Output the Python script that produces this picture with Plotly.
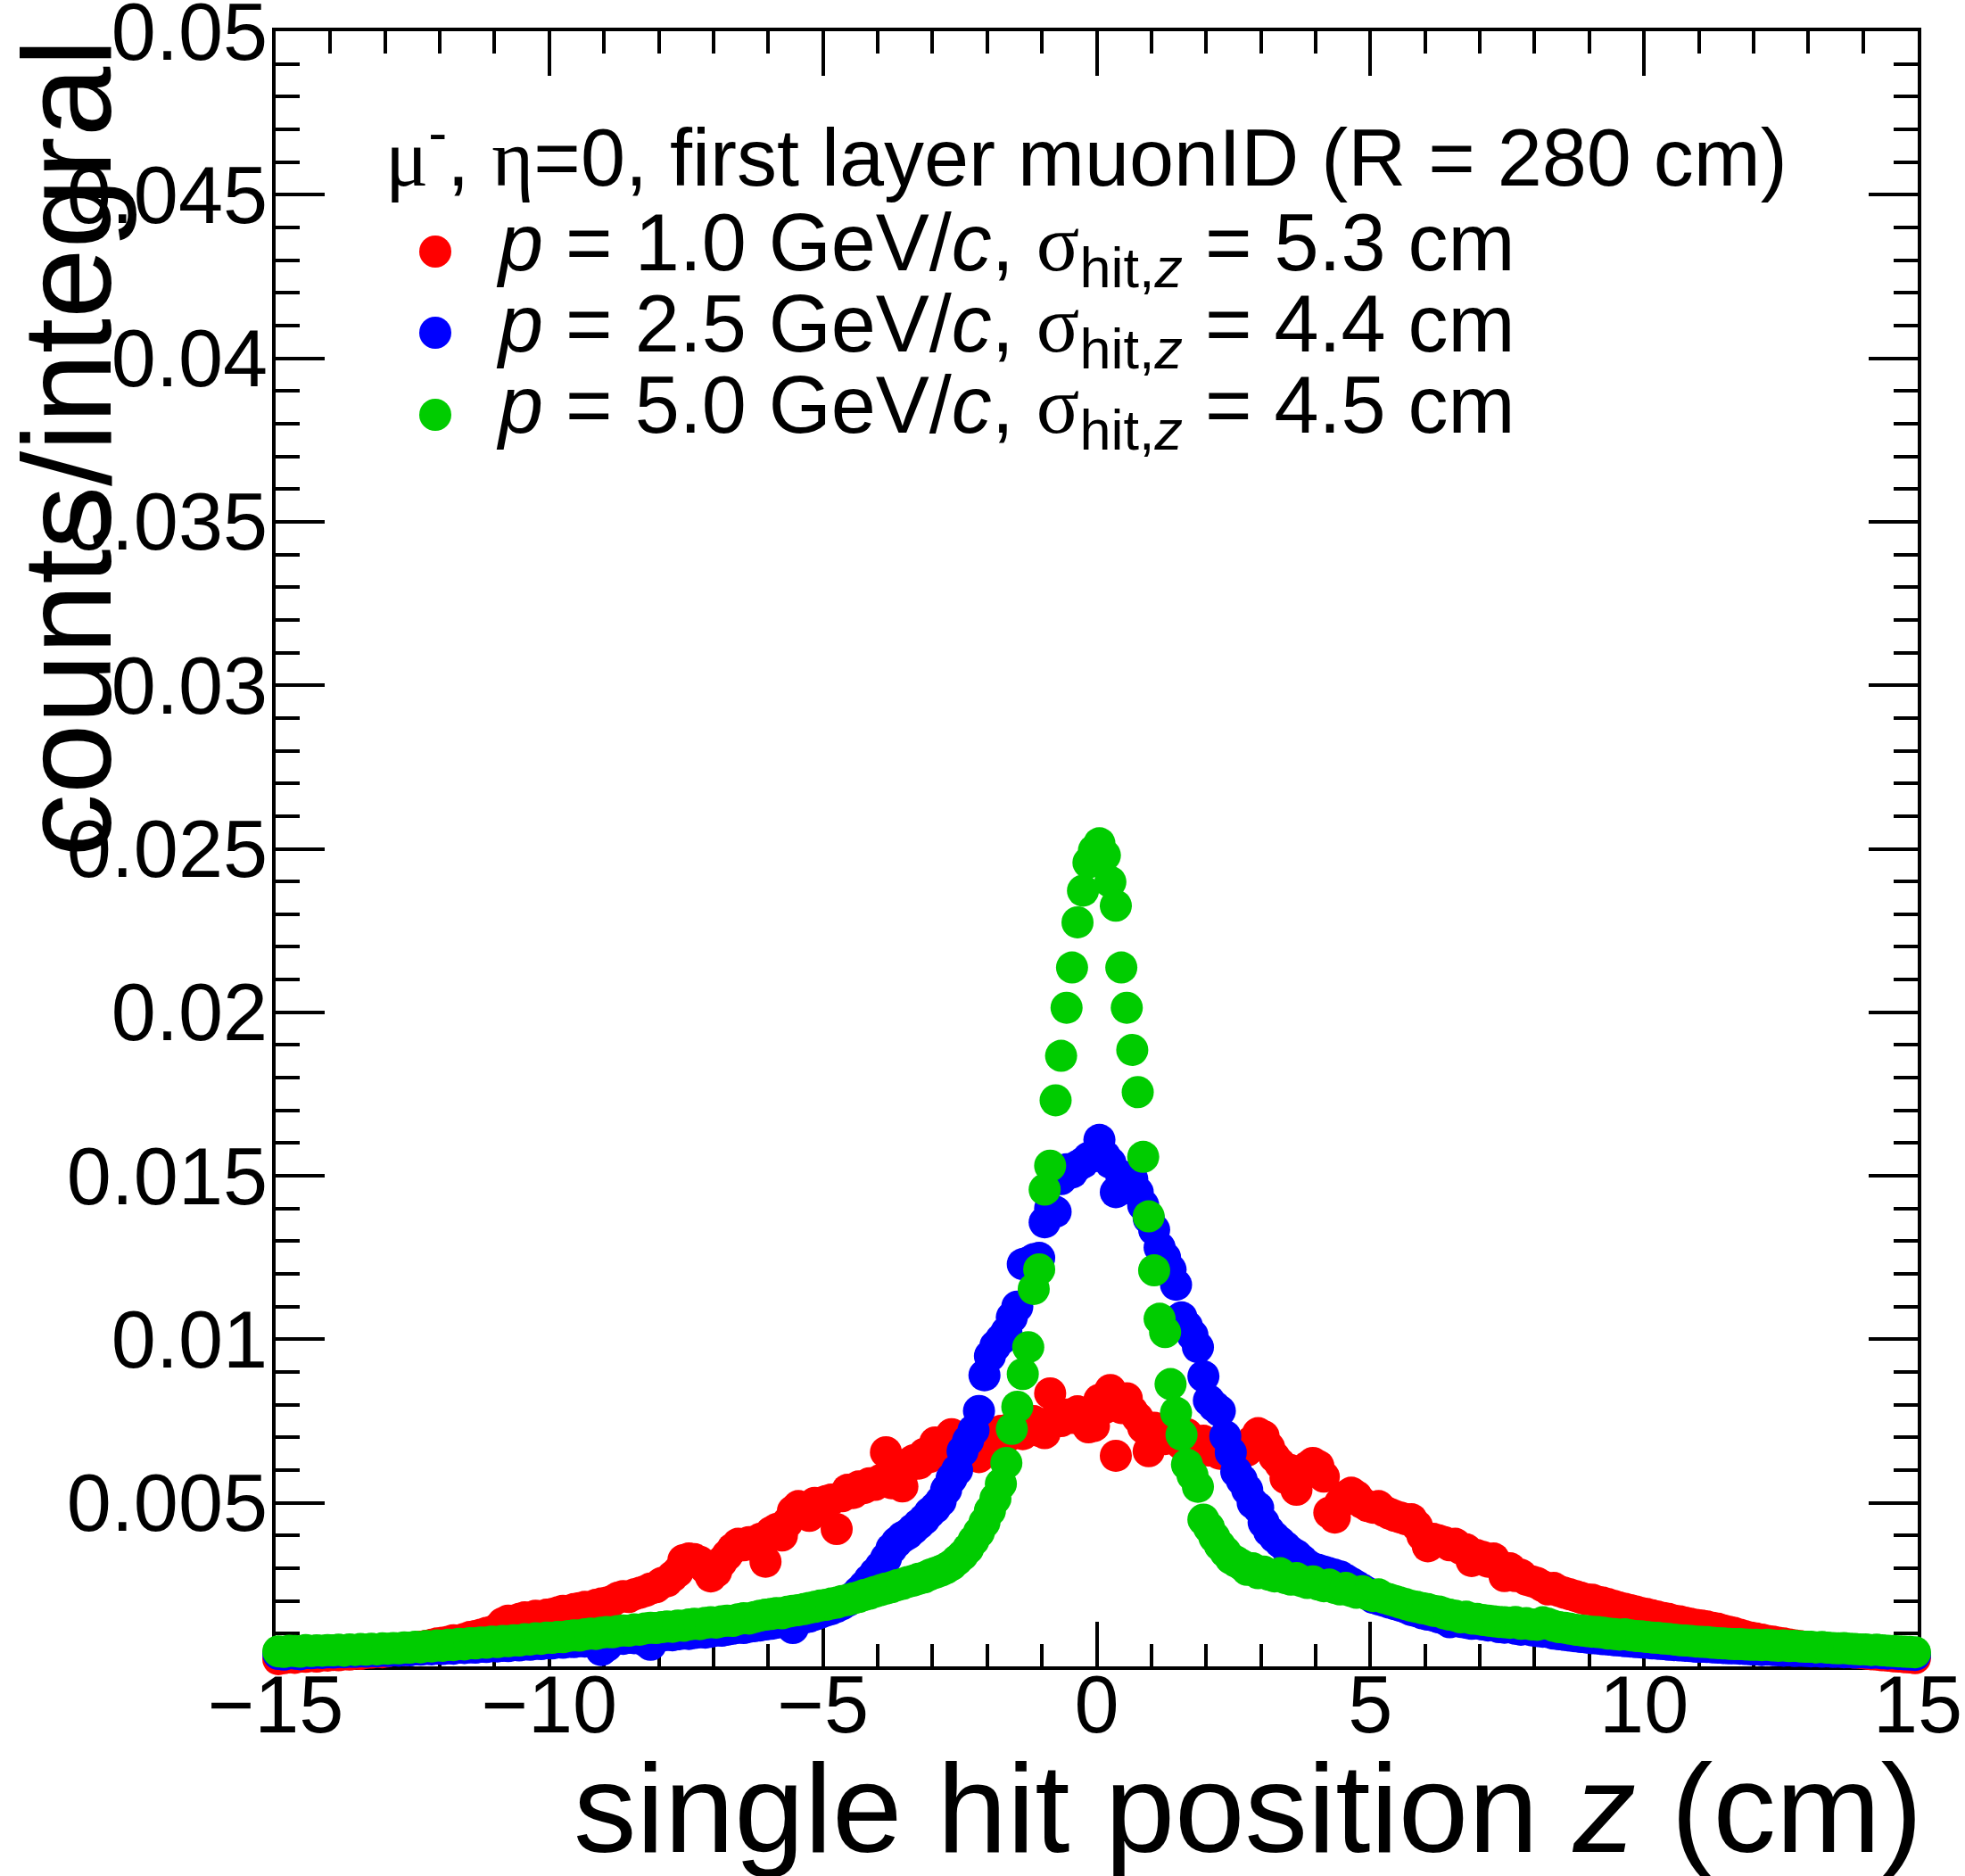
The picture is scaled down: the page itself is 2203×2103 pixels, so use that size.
import plotly.graph_objects as go

# ---------------- data ----------------
# histogram binning of the single hit position z (cm)
BIN_LOW, BIN_HIGH, N_BINS = -15.0, 15.0, 300
bin_width = (BIN_HIGH - BIN_LOW) / N_BINS
z_centers = [round(BIN_LOW + (i + 0.5) * bin_width, 3) for i in range(N_BINS)]

VALUE_UNIT = 1e-3  # the lists below are counts/integral in units of 10^-3

# p = 1.0 GeV/c (red)
counts_p1p0 = [
    0.22, 0.25, 0.28, 0.26, 0.30, 0.29, 0.32, 0.30, 0.34, 0.33,
    0.35, 0.34, 0.37, 0.36, 0.39, 0.38, 0.41, 0.42, 0.44, 0.43,
    0.46, 0.49, 0.52, 0.50, 0.55, 0.58, 0.60, 0.63, 0.66, 0.70,
    0.72, 0.75, 0.80, 0.78, 0.84, 0.90, 0.93, 0.97, 1.02, 1.06,
    1.15, 1.32, 1.40, 1.36, 1.45, 1.50, 1.47, 1.55, 1.52, 1.58,
    1.60, 1.65, 1.70, 1.66, 1.75, 1.78, 1.82, 1.80, 1.88, 1.92,
    1.95, 2.00, 2.10, 2.15, 2.12, 2.20, 2.25, 2.30, 2.38, 2.42,
    2.55, 2.60, 2.75, 2.90, 3.25, 3.30, 3.28, 3.20, 3.00, 2.75,
    2.90, 3.20, 3.40, 3.60, 3.75, 3.70, 3.80, 3.70, 3.90, 3.20,
    4.10, 4.20, 4.00, 4.40, 4.75, 4.90, 4.85, 4.60, 5.00, 4.95,
    5.05, 5.10, 4.20, 5.20, 5.40, 5.30, 5.50, 5.45, 5.60, 5.55,
    5.70, 6.55, 5.60, 5.90, 5.50, 6.10, 6.30, 6.20, 6.50, 6.40,
    6.85, 6.70, 6.90, 7.10, 6.80, 7.00, 6.70, 6.90, 6.40, 6.80,
    7.00, 6.90, 7.20, 7.00, 7.30, 7.40, 7.10, 7.30, 7.50, 7.20,
    7.13, 8.35, 7.60, 7.50, 7.70, 7.60, 7.80, 7.50, 7.31, 7.35,
    8.15, 7.90, 8.45, 6.44, 7.90, 8.20, 7.80, 7.60, 7.30, 6.58,
    7.30, 7.10, 6.95, 7.20, 7.00, 6.80, 7.10, 6.90, 6.70, 6.90,
    6.60, 6.80, 6.50, 6.70, 6.60, 6.40, 6.70, 6.60, 6.90, 7.13,
    7.04, 6.70, 6.40, 6.20, 5.76, 6.00, 5.40, 5.90, 6.10, 6.22,
    6.13, 5.80, 4.70, 4.55, 5.00, 5.20, 5.31, 5.20, 5.00, 4.90,
    4.85, 4.90, 4.75, 4.67, 4.60, 4.55, 4.50, 4.50, 4.30, 4.00,
    3.67, 3.90, 3.85, 3.80, 3.70, 3.75, 3.60, 3.58, 3.22, 3.40,
    3.35, 3.20, 3.30, 3.10, 2.76, 3.00, 2.76, 2.80, 2.65, 2.60,
    2.55, 2.45, 2.35, 2.40, 2.30, 2.25, 2.20, 2.15, 2.10, 2.05,
    2.04, 1.98, 1.95, 1.90, 1.85, 1.80, 1.76, 1.72, 1.68, 1.63,
    1.60, 1.56, 1.52, 1.48, 1.45, 1.40, 1.38, 1.34, 1.30, 1.27,
    1.25, 1.22, 1.18, 1.15, 1.10, 1.06, 1.02, 0.97, 0.92, 0.88,
    0.85, 0.82, 0.78, 0.76, 0.72, 0.70, 0.67, 0.64, 0.62, 0.59,
    0.57, 0.55, 0.53, 0.51, 0.49, 0.47, 0.45, 0.44, 0.42, 0.41,
    0.39, 0.37, 0.36, 0.34, 0.33, 0.31, 0.30, 0.28, 0.27, 0.25,
]

# p = 2.5 GeV/c (blue)
counts_p2p5 = [
    0.38, 0.36, 0.40, 0.39, 0.37, 0.41, 0.40, 0.42, 0.41, 0.43,
    0.42, 0.44, 0.43, 0.45, 0.44, 0.46, 0.45, 0.47, 0.46, 0.48,
    0.47, 0.49, 0.48, 0.50, 0.49, 0.52, 0.51, 0.53, 0.52, 0.54,
    0.53, 0.55, 0.54, 0.57, 0.56, 0.58, 0.57, 0.60, 0.59, 0.62,
    0.61, 0.63, 0.62, 0.65, 0.64, 0.67, 0.66, 0.69, 0.68, 0.71,
    0.70, 0.73, 0.72, 0.75, 0.74, 0.77, 0.76, 0.79, 0.78, 0.50,
    0.62, 0.83, 0.85, 0.84, 0.87, 0.86, 0.89, 0.78, 0.66, 0.92,
    0.94, 0.96, 0.95, 0.98, 1.00, 0.99, 1.02, 1.04, 1.03, 1.06,
    1.10, 1.09, 1.12, 1.15, 1.18, 1.17, 1.21, 1.23, 1.25, 1.28,
    1.30, 1.33, 1.36, 1.38, 1.17, 1.44, 1.48, 1.52, 1.58, 1.64,
    1.70, 1.75, 1.82, 1.90, 2.00, 2.12, 2.28, 2.45, 2.65, 2.85,
    3.05, 3.30, 3.60, 3.80, 3.95, 4.05, 4.20, 4.35, 4.50, 4.70,
    4.85, 5.05, 5.40, 5.75, 6.00, 6.58, 6.90, 7.22, 7.81, 8.90,
    9.49, 9.80, 10.00, 10.22, 10.67, 11.00, 12.30, 12.35, 12.45, 12.49,
    13.58, 14.00, 13.90, 14.90, 15.20, 15.10, 15.30, 15.40, 15.55, 15.60,
    16.10, 15.60, 15.40, 14.50, 15.00, 14.85, 14.90, 14.50, 14.10, 13.70,
    13.35, 12.81, 12.50, 12.13, 11.67, 10.67, 10.40, 10.13, 9.76, 8.87,
    8.13, 7.95, 7.81, 7.04, 6.54, 5.95, 5.70, 5.40, 5.00, 4.85,
    4.40, 4.13, 3.95, 3.80, 3.65, 3.50, 3.40, 3.25, 3.10, 3.00,
    2.95, 2.90, 2.85, 2.80, 2.75, 2.65, 2.55, 2.45, 2.35, 2.25,
    2.10, 2.05, 2.00, 1.95, 1.90, 1.85, 1.80, 1.72, 1.68, 1.62,
    1.58, 1.55, 1.50, 1.45, 1.35, 1.40, 1.36, 1.33, 1.30, 1.32,
    1.28, 1.25, 1.27, 1.20, 1.18, 1.20, 1.15, 1.12, 1.14, 1.10,
    1.08, 1.06, 1.05, 1.00, 0.98, 0.96, 0.94, 0.92, 0.90, 0.88,
    0.86, 0.85, 0.83, 0.82, 0.80, 0.79, 0.77, 0.76, 0.74, 0.73,
    0.72, 0.70, 0.69, 0.68, 0.66, 0.65, 0.64, 0.63, 0.62, 0.60,
    0.60, 0.59, 0.58, 0.57, 0.56, 0.55, 0.55, 0.54, 0.53, 0.52,
    0.52, 0.50, 0.51, 0.50, 0.49, 0.48, 0.49, 0.47, 0.48, 0.47,
    0.46, 0.47, 0.45, 0.46, 0.44, 0.45, 0.43, 0.44, 0.42, 0.43,
    0.42, 0.41, 0.42, 0.40, 0.39, 0.40, 0.38, 0.37, 0.36, 0.35,
]

# p = 5.0 GeV/c (green)
counts_p5p0 = [
    0.46, 0.44, 0.48, 0.47, 0.45, 0.50, 0.47, 0.49, 0.48, 0.50,
    0.49, 0.51, 0.48, 0.52, 0.50, 0.53, 0.51, 0.54, 0.52, 0.55,
    0.54, 0.56, 0.55, 0.58, 0.57, 0.60, 0.58, 0.62, 0.61, 0.64,
    0.63, 0.66, 0.65, 0.69, 0.67, 0.71, 0.70, 0.73, 0.72, 0.76,
    0.74, 0.78, 0.77, 0.80, 0.79, 0.83, 0.82, 0.86, 0.84, 0.88,
    0.87, 0.90, 0.89, 0.93, 0.95, 0.94, 0.98, 1.00, 0.99, 1.03,
    1.05, 1.04, 1.08, 1.10, 1.09, 1.13, 1.12, 1.16, 1.18, 1.17,
    1.20, 1.22, 1.21, 1.25, 1.24, 1.28, 1.30, 1.29, 1.33, 1.35,
    1.34, 1.38, 1.40, 1.39, 1.44, 1.47, 1.46, 1.51, 1.55, 1.58,
    1.60, 1.63, 1.62, 1.67, 1.70, 1.72, 1.75, 1.79, 1.82, 1.86,
    1.88, 1.92, 1.95, 2.00, 2.03, 2.08, 2.12, 2.18, 2.22, 2.28,
    2.33, 2.38, 2.42, 2.48, 2.52, 2.58, 2.62, 2.68, 2.72, 2.80,
    2.86, 2.92, 3.00, 3.10, 3.25, 3.40, 3.60, 3.85, 4.10, 4.40,
    4.76, 5.13, 5.58, 6.22, 7.26, 7.94, 8.94, 9.76, 11.54, 12.14,
    14.58, 15.31, 17.31, 18.67, 20.14, 21.37, 22.75, 23.72, 24.58, 24.95,
    25.17, 24.80, 23.99, 23.26, 21.37, 20.14, 18.85, 17.56, 15.58, 13.76,
    12.11, 10.63, 10.22, 8.63, 7.76, 7.08, 6.17, 5.85, 5.49, 4.49,
    4.25, 3.95, 3.70, 3.50, 3.30, 3.20, 3.10, 2.95, 3.00, 2.85,
    2.90, 2.80, 2.75, 2.85, 2.70, 2.65, 2.70, 2.60, 2.55, 2.60,
    2.50, 2.45, 2.50, 2.40, 2.35, 2.40, 2.30, 2.25, 2.30, 2.20,
    2.15, 2.20, 2.10, 2.05, 2.00, 1.95, 1.90, 1.85, 1.82, 1.78,
    1.75, 1.70, 1.68, 1.62, 1.58, 1.55, 1.50, 1.52, 1.46, 1.45,
    1.42, 1.40, 1.38, 1.36, 1.35, 1.33, 1.36, 1.30, 1.32, 1.28,
    1.27, 1.35, 1.30, 1.24, 1.20, 1.18, 1.15, 1.12, 1.10, 1.08,
    1.06, 1.05, 1.03, 1.00, 0.99, 0.97, 0.98, 0.95, 0.93, 0.92,
    0.90, 0.88, 0.87, 0.85, 0.84, 0.82, 0.80, 0.79, 0.78, 0.76,
    0.75, 0.74, 0.72, 0.71, 0.70, 0.69, 0.68, 0.68, 0.67, 0.66,
    0.66, 0.65, 0.66, 0.64, 0.63, 0.64, 0.62, 0.63, 0.61, 0.60,
    0.60, 0.58, 0.59, 0.57, 0.56, 0.55, 0.56, 0.54, 0.53, 0.52,
    0.52, 0.50, 0.51, 0.49, 0.48, 0.47, 0.46, 0.45, 0.44, 0.43,
]

series_names = ["p = 1.0 GeV/c", "p = 2.5 GeV/c", "p = 5.0 GeV/c"]
series_sigma = ["5.3", "4.4", "4.5"]
series_momentum = ["1.0", "2.5", "5.0"]
series_colors = ["#ff0000", "#0000ff", "#00cc00"]
series_values = [counts_p1p0, counts_p2p5, counts_p5p0]

x_tick_vals = [-15, -10, -5, 0, 5, 10, 15]
x_tick_text = ["\u221215", "\u221210", "\u22125", "0", "5", "10", "15"]
y_tick_vals = [0.005, 0.01, 0.015, 0.02, 0.025, 0.03, 0.035, 0.04, 0.045, 0.05]
y_tick_text = ["0.005", "0.01", "0.015", "0.02", "0.025", "0.03", "0.035", "0.04", "0.045", "0.05"]

header_text = ('<span style="font-family:Liberation Serif">\u03bc</span><sup>-</sup>, '
               '<span style="font-family:Liberation Serif">\u03b7</span>=0, '
               'first layer muonID (R = 280 cm)')

# ---------------- figure ----------------
W, H = 2203, 2103
L, R, T, B = 309, 53, 35, 235
PW, PH = W - L - R, H - T - B


def px_x(px):
    return (px - L) / PW


def px_y(py):
    return (H - B - py) / PH


FONT = "Liberation Sans"
fig = go.Figure()

for name, vals, col in zip(series_names, series_values, series_colors):
    fig.add_trace(go.Scatter(
        x=z_centers,
        y=[v * VALUE_UNIT for v in vals],
        mode="markers",
        name=name,
        marker=dict(symbol="circle", size=36, color=col, line=dict(width=0)),
        cliponaxis=False,
        showlegend=False,
    ))

axis_common = dict(
    showline=True, linecolor="black", linewidth=4, mirror="allticks",
    ticks="inside", tickcolor="black", tickwidth=4,
    showgrid=False, zeroline=False, layer="below traces",
    ticklabeloverflow="allow", automargin=False,
    tickfont=dict(family=FONT, size=90, color="black"),
)

fig.update_xaxes(
    range=[-15, 15], tickmode="array", tickvals=x_tick_vals, ticktext=x_tick_text,
    ticklen=50, ticklabelstandoff=-38,
    minor=dict(ticks="inside", ticklen=25, tickwidth=4, tickcolor="black",
               tickmode="array", tickvals=[v for v in range(-15, 16) if v % 5 != 0]),
    **axis_common,
)
fig.update_yaxes(
    range=[0, 0.05], tickmode="array", tickvals=y_tick_vals, ticktext=y_tick_text,
    ticklen=55, ticklabelstandoff=-13,
    minor=dict(ticks="inside", ticklen=27, tickwidth=4, tickcolor="black",
               tickmode="array", tickvals=[k * 0.001 for k in range(1, 50) if k % 5 != 0]),
    **axis_common,
)

annotations = []
# axis titles
annotations.append(dict(
    text="single hit position <i>z</i> (cm)", xref="paper", yref="paper",
    x=px_x(2157), y=px_y(2027), xanchor="right", yanchor="middle", showarrow=False,
    font=dict(family=FONT, size=141, color="black"),
))
annotations.append(dict(
    text="counts/integral", xref="paper", yref="paper", textangle=-90,
    x=px_x(75), y=px_y(42), xanchor="center", yanchor="top", showarrow=False,
    font=dict(family=FONT, size=141, color="black"),
))
# legend header
annotations.append(dict(
    text=header_text, xref="paper", yref="paper",
    x=px_x(430), y=px_y(170), xanchor="left", yanchor="middle", showarrow=False,
    font=dict(family=FONT, size=90, color="black"),
))

legend_text_y = [278, 369, 460]
legend_marker_y = [282, 373, 465]
shapes = []
for mom, sig, col, ty, my in zip(series_momentum, series_sigma, series_colors,
                                 legend_text_y, legend_marker_y):
    txt = ('<i>p</i> = %s GeV/<i>c</i>, '
           '<span style="font-family:Liberation Serif">\u03c3</span>'
           '<sub>hit,<i>z</i></sub> = %s cm' % (mom, sig))
    annotations.append(dict(
        text=txt, xref="paper", yref="paper",
        x=px_x(554), y=px_y(ty), xanchor="left", yanchor="middle", showarrow=False,
        font=dict(family=FONT, size=90, color="black"),
    ))
    shapes.append(dict(
        type="circle", xref="paper", yref="paper",
        xsizemode="pixel", ysizemode="pixel",
        xanchor=px_x(488), yanchor=px_y(my),
        x0=-18, x1=18, y0=-18, y1=18,
        fillcolor=col, line=dict(width=0),
    ))

fig.update_layout(
    width=W, height=H,
    margin=dict(l=L, r=R, t=T, b=B, pad=0, autoexpand=False),
    paper_bgcolor="white", plot_bgcolor="white",
    annotations=annotations, shapes=shapes,
    showlegend=False,
)

# remove the default page margin so the figure sits at the window's top-left corner
fig.write_html(
    "out.html",
    config={"displayModeBar": False},
    post_script="document.body.style.margin='0';document.body.style.overflow='hidden';",
)
